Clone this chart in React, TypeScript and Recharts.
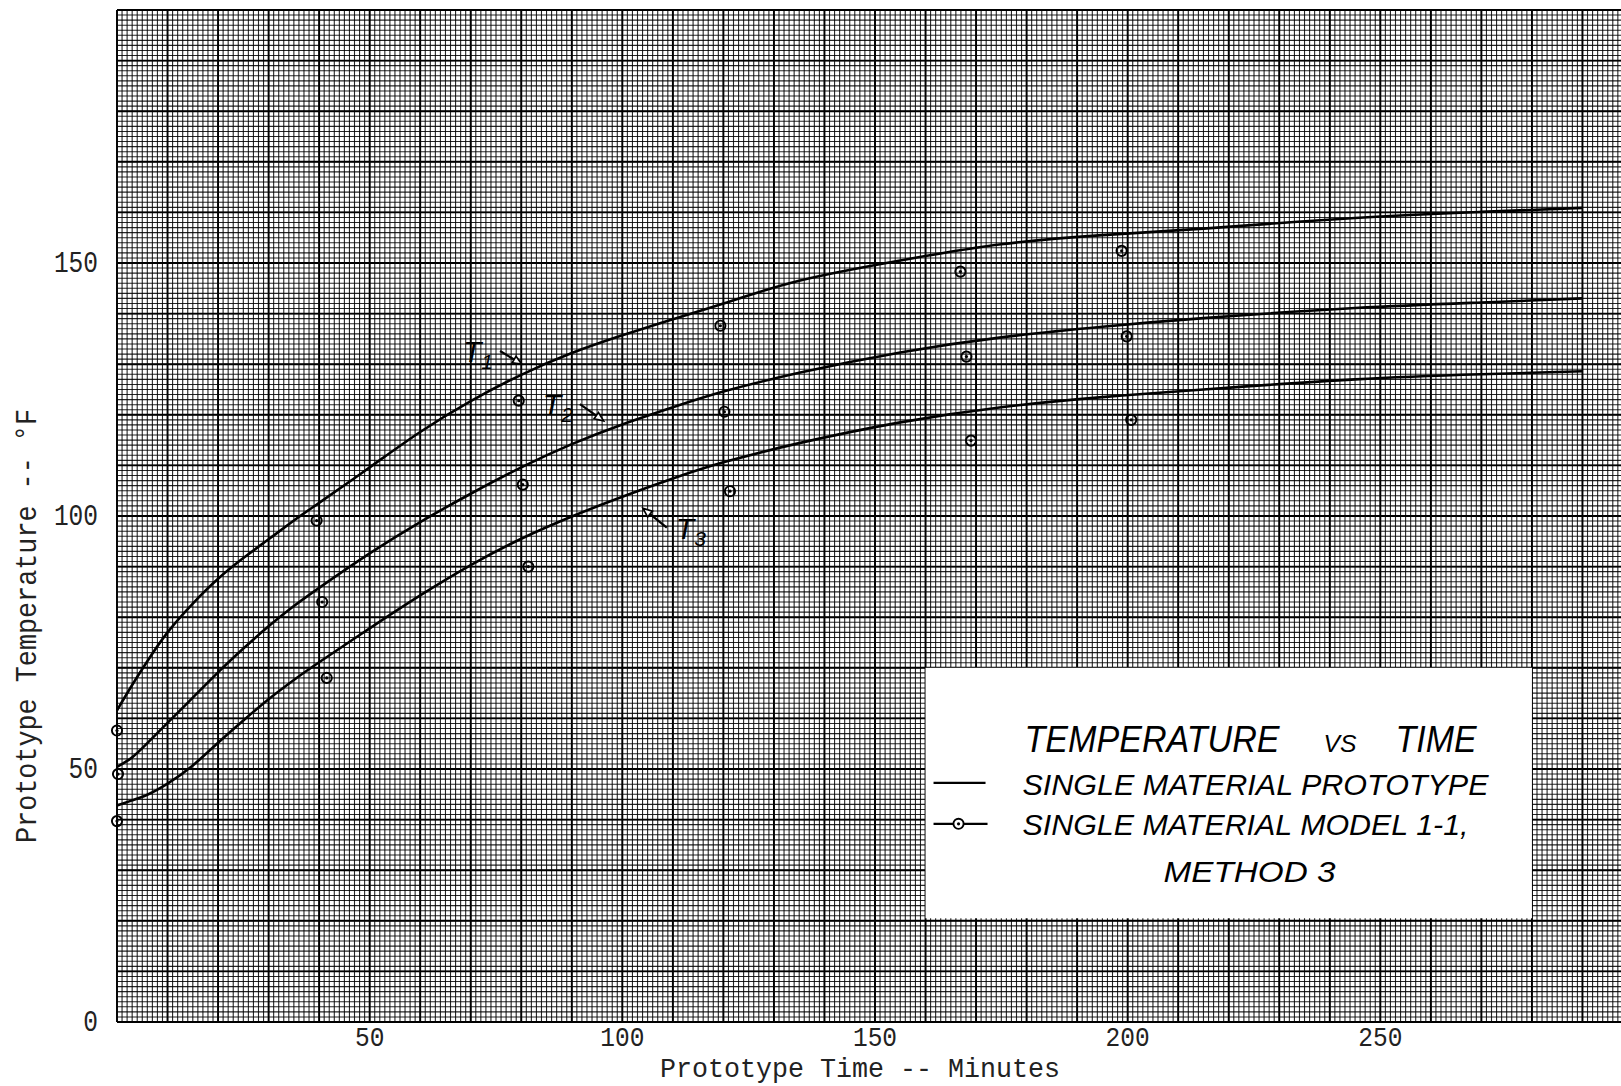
import {
  CartesianGrid,
  ComposedChart,
  Line,
  ReferenceArea,
  ReferenceLine,
  Scatter,
  XAxis,
  YAxis,
} from "recharts";

// faired curves (prototype), minutes vs deg F
const curveTime = [0, 3, 6, 10, 15, 20, 25, 30, 35, 40, 50, 60, 70, 80, 90, 100, 110, 120, 135, 155, 175, 195, 215, 245, 270, 290];
const curveT1 = [61.6, 66.6, 71.3, 77, 82.7, 87.6, 91.7, 95.4, 99.1, 102.6, 109.6, 116.6, 122.7, 127.9, 132.2, 135.7, 138.9, 142, 146.5, 150.5, 153.7, 155.5, 156.8, 158.9, 160.1, 160.9];
const curveT2 = [50.4, 52.3, 55.1, 59.1, 64.1, 69.1, 73.8, 78.2, 82.2, 85.8, 92.6, 98.8, 104.4, 109.6, 114.2, 118.1, 121.5, 124.6, 128.3, 132.3, 135.3, 137.4, 139.1, 141.1, 142.2, 143];
const curveT3 = [42.8, 43.8, 44.9, 47.1, 50.7, 55.2, 59.6, 63.8, 67.6, 71.1, 77.8, 84.3, 90.3, 95.5, 99.9, 103.8, 107.4, 110.6, 114.4, 118.5, 121.5, 123.5, 125, 127, 128, 128.6];

// model 1-1, method 3 test points
const modelTime1 = [0, 39.5, 79.5, 119.4, 166.9, 198.8];
const modelTemp1 = [57.6, 99.1, 122.8, 137.6, 148.3, 152.4];
const modelTime2 = [0.2, 40.6, 80.3, 120.2, 168.1, 199.8];
const modelTemp2 = [49, 83, 106.2, 120.6, 131.5, 135.5];
const modelTime3 = [0, 41.5, 81.4, 121.3, 169, 200.7];
const modelTemp3 = [39.7, 68, 90, 104.9, 114.9, 119];

const timeTicks = [50, 100, 150, 200, 250];
const tempTicks = [0, 50, 100, 150];

const TIME_MAX = 300;
const TEMP_MAX = 200;

// T1/T2/T3 pointer arrows, data units
const arrowNames = ["1", "2", "3"];
const arrowStart = [
  [75.8, 132.6],
  [91.6, 122.1],
  [108.8, 97.7],
];
const arrowTip = [
  [80.1, 130.0],
  [96.3, 118.8],
  [104.1, 101.5],
];

const curveData = curveTime.map((time, i) => ({
  time,
  T1: curveT1[i],
  T2: curveT2[i],
  T3: curveT3[i],
}));

const points = (times: number[], temps: number[]) =>
  times.map((time, i) => ({ time, temp: temps[i] }));

const fineTime = Array.from({ length: TIME_MAX + 1 }, (_, i) => i);
const fineTemp = Array.from({ length: TEMP_MAX + 1 }, (_, i) => i);
const majorTime = fineTime.filter((v) => v % 10 === 0);
const majorTemp = fineTemp.filter((v) => v % 10 === 0);

const TYPE_FONT = "'Liberation Mono', 'DejaVu Sans Mono', monospace";
const LETTER_FONT = "'Liberation Sans', 'DejaVu Sans', sans-serif";

function xPos(axis: any, offset: any, v: number) {
  if (axis && typeof axis.scale === "function") return axis.scale(v);
  return offset.left + (v / TIME_MAX) * offset.width;
}

function yPos(axis: any, offset: any, v: number) {
  if (axis && typeof axis.scale === "function") return axis.scale(v);
  return offset.top + (1 - v / TEMP_MAX) * offset.height;
}

function RingDot(props: any) {
  const { cx, cy } = props;
  if (cx == null || cy == null) return null;
  return (
    <g>
      <circle cx={cx} cy={cy} r={5.1} fill="none" stroke="#000" strokeWidth={1.9} />
      <circle cx={cx} cy={cy} r={1.6} fill="#000" />
    </g>
  );
}

function TimeTick(props: any) {
  const { x, y, payload } = props;
  const label = String(payload.value);
  return (
    <text
      x={x}
      y={y + 24}
      textAnchor="middle"
      fontFamily={TYPE_FONT}
      fontSize={28}
      fill="#222"
      textLength={label.length * 14.7}
      lengthAdjust="spacingAndGlyphs"
    >
      {label}
    </text>
  );
}

function TempTick(props: any) {
  const { x, y, payload } = props;
  const label = String(payload.value);
  return (
    <text
      x={x - 19}
      y={y + 9}
      textAnchor="end"
      fontFamily={TYPE_FONT}
      fontSize={29}
      fill="#222"
      textLength={label.length * 14.7}
      lengthAdjust="spacingAndGlyphs"
    >
      {label}
    </text>
  );
}

function makeArrow(idx: number) {
  return (props: any) => {
    const { x1, y1, x2, y2 } = props;
    const ang = Math.atan2(y2 - y1, x2 - x1);
    const len = 9;
    const half = 3.8;
    const bx = x2 - len * Math.cos(ang);
    const by = y2 - len * Math.sin(ang);
    const px = -Math.sin(ang) * half;
    const py = Math.cos(ang) * half;
    const toRight = x2 < x1;
    return (
      <g>
        <line x1={x1} y1={y1} x2={bx} y2={by} stroke="#000" strokeWidth={2.2} />
        <polygon
          points={`${x2},${y2} ${bx + px},${by + py} ${bx - px},${by - py}`}
          fill="#fff"
          stroke="#000"
          strokeWidth={1.7}
        />
        <text
          x={toRight ? x1 + 9 : x1 - 7}
          y={y1 + 11}
          textAnchor={toRight ? "start" : "end"}
          fontFamily={LETTER_FONT}
          fontStyle="italic"
          fontSize={30}
          fill="#000"
        >
          T
          <tspan fontSize={21} dy={7}>
            {arrowNames[idx]}
          </tspan>
        </text>
      </g>
    );
  };
}

function LegendBox(props: any) {
  const { x, y, width, height } = props;
  const text = {
    fontFamily: LETTER_FONT,
    fontStyle: "italic" as const,
    fill: "#000",
    lengthAdjust: "spacingAndGlyphs",
  };
  return (
    <g>
      <rect x={x} y={y} width={width} height={height} fill="#fff" />
      <text {...text} x={x + 99} y={y + 84} fontSize={37} textLength={255}>
        TEMPERATURE
      </text>
      <text {...text} x={x + 398} y={y + 84} fontSize={24} textLength={33}>
        VS
      </text>
      <text {...text} x={x + 470} y={y + 84} fontSize={37} textLength={81}>
        TIME
      </text>
      <line x1={x + 8} y1={y + 115} x2={x + 60} y2={y + 115} stroke="#000" strokeWidth={2.2} />
      <text {...text} x={x + 97} y={y + 127} fontSize={30} textLength={466}>
        SINGLE MATERIAL PROTOTYPE
      </text>
      <line x1={x + 8} y1={y + 156} x2={x + 62} y2={y + 156} stroke="#000" strokeWidth={2.2} />
      <circle cx={x + 33} cy={y + 156} r={5.1} fill="#fff" stroke="#000" strokeWidth={1.9} />
      <circle cx={x + 33} cy={y + 156} r={1.6} fill="#000" />
      <text {...text} x={x + 97} y={y + 167} fontSize={30} textLength={446}>
        SINGLE MATERIAL MODEL 1-1,
      </text>
      <text {...text} x={x + 238} y={y + 214} fontSize={30} textLength={172}>
        METHOD 3
      </text>
    </g>
  );
}

function TimeTitle(props: any) {
  const vb = props.viewBox || { x: 117, y: 1022 };
  return (
    <text
      x={vb.x + 743}
      y={vb.y + 55}
      textAnchor="middle"
      fontFamily={TYPE_FONT}
      fontSize={28}
      fill="#222"
      textLength={400}
      lengthAdjust="spacingAndGlyphs"
    >
      Prototype Time -- Minutes
    </text>
  );
}

function TempTitle(props: any) {
  const vb = props.viewBox || { x: 0, y: 10 };
  const cx = vb.x + 36;
  const cy = 626;
  return (
    <text
      x={cx}
      y={cy}
      transform={`rotate(-90 ${cx} ${cy})`}
      textAnchor="middle"
      fontFamily={TYPE_FONT}
      fontSize={29}
      fill="#222"
      textLength={434}
      lengthAdjust="spacingAndGlyphs"
    >
      Prototype Temperature -- °F
    </text>
  );
}

export default function App() {
  return (
    <div
      style={{
        position: "absolute",
        left: 0,
        top: 0,
        width: 1621,
        height: 1086,
        overflow: "hidden",
        background: "#fff",
      }}
    >
      <ComposedChart
        width={1640}
        height={1086}
        data={curveData}
        margin={{ top: 10, right: 7, left: 0, bottom: 0 }}
      >
        <CartesianGrid
          stroke="#000"
          strokeOpacity={0.85}
          strokeWidth={1.1}
          verticalCoordinatesGenerator={({ xAxis, offset }: any) =>
            fineTime.map((v) => xPos(xAxis, offset, v))
          }
          horizontalCoordinatesGenerator={({ yAxis, offset }: any) =>
            fineTemp.map((v) => yPos(yAxis, offset, v))
          }
        />
        <CartesianGrid
          stroke="#000"
          strokeWidth={1.9}
          verticalCoordinatesGenerator={({ xAxis, offset }: any) =>
            majorTime.map((v) => xPos(xAxis, offset, v))
          }
          horizontalCoordinatesGenerator={({ yAxis, offset }: any) =>
            majorTemp.map((v) => yPos(yAxis, offset, v))
          }
        />
        <XAxis
          dataKey="time"
          type="number"
          domain={[0, TIME_MAX]}
          ticks={timeTicks}
          interval={0}
          height={64}
          axisLine={false}
          tickLine={false}
          tickSize={0}
          tickMargin={0}
          tick={<TimeTick />}
          label={<TimeTitle />}
        />
        <YAxis
          type="number"
          domain={[0, TEMP_MAX]}
          ticks={tempTicks}
          interval={0}
          width={117}
          axisLine={false}
          tickLine={false}
          tickSize={0}
          tickMargin={0}
          tick={<TempTick />}
          label={<TempTitle />}
        />
        <ReferenceArea
          x1={160}
          x2={280}
          y1={20.5}
          y2={70}
          shape={(p: any) => <LegendBox {...p} />}
        />
        {arrowNames.map((name, i) => (
          <ReferenceLine
            key={name}
            segment={[
              { x: arrowStart[i][0], y: arrowStart[i][1] },
              { x: arrowTip[i][0], y: arrowTip[i][1] },
            ]}
            shape={makeArrow(i)}
          />
        ))}
        <Line type="natural" dataKey="T1" stroke="#000" strokeWidth={2.6} dot={false} isAnimationActive={false} />
        <Line type="natural" dataKey="T2" stroke="#000" strokeWidth={2.6} dot={false} isAnimationActive={false} />
        <Line type="natural" dataKey="T3" stroke="#000" strokeWidth={2.6} dot={false} isAnimationActive={false} />
        <Scatter data={points(modelTime1, modelTemp1)} dataKey="temp" shape={<RingDot />} isAnimationActive={false} />
        <Scatter data={points(modelTime2, modelTemp2)} dataKey="temp" shape={<RingDot />} isAnimationActive={false} />
        <Scatter data={points(modelTime3, modelTemp3)} dataKey="temp" shape={<RingDot />} isAnimationActive={false} />
      </ComposedChart>
    </div>
  );
}
